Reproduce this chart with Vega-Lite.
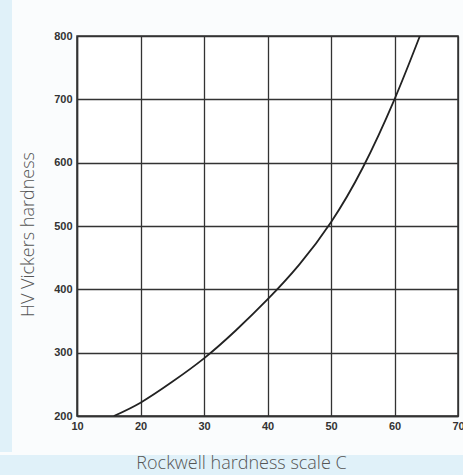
{
  "$schema": "https://vega.github.io/schema/vega-lite/v6.json",
  "background": "#fafcfd",
  "padding": 0,
  "bounds": "full",
  "spacing": 3,
  "vconcat": [
    {
      "bounds": "flush",
      "center": true,
      "spacing": 65,
      "hconcat": [
        {
          "width": 12,
          "height": 452,
          "view": {"fill": "#e0f1f9", "stroke": null},
          "data": {"values": [{"k": 1}]},
          "mark": {"type": "point", "opacity": 0}
        },
        {
          "width": 381,
          "height": 380,
          "view": {"fill": "#ffffff", "stroke": "#333333", "strokeWidth": 1.5},
          "data": {
            "values": [
              {"hrc": 15.8, "hv": 200},
              {"hrc": 20, "hv": 221},
              {"hrc": 25, "hv": 254},
              {"hrc": 30, "hv": 291},
              {"hrc": 35, "hv": 335},
              {"hrc": 40, "hv": 384},
              {"hrc": 45, "hv": 439},
              {"hrc": 50, "hv": 506},
              {"hrc": 55, "hv": 592},
              {"hrc": 60, "hv": 700},
              {"hrc": 64, "hv": 800}
            ]
          },
          "mark": {"type": "line", "color": "#222222", "strokeWidth": 1.8, "interpolate": "natural", "clip": true},
          "encoding": {
            "x": {
              "field": "hrc", "type": "quantitative",
              "scale": {"domain": [10, 70], "nice": false, "zero": false},
              "axis": {
                "values": [10, 20, 30, 40, 50, 60, 70],
                "title": null,
                "labelFont": "Liberation Sans", "labelFontSize": 11, "labelFontWeight": "bold", "labelColor": "#333333",
                "labelPadding": 4, "ticks": false, "domainColor": "#333333", "domainWidth": 1.5,
                "grid": true, "gridColor": "#333333", "gridWidth": 1.3, "gridOpacity": 1,
                "labelFlush": false, "labelOverlap": false
              }
            },
            "y": {
              "field": "hv", "type": "quantitative",
              "scale": {"domain": [200, 800], "nice": false, "zero": false},
              "axis": {
                "values": [200, 300, 400, 500, 600, 700, 800],
                "title": "HV Vickers hardness",
                "titleFont": "Open Sans", "titleFontSize": 18, "titleFontWeight": 300, "titleColor": "#555555",
                "titleX": -44, "titleY": 198, "titleAnchor": "middle", "titleBaseline": "alphabetic",
                "labelFont": "Liberation Sans", "labelFontSize": 11, "labelFontWeight": "bold", "labelColor": "#333333",
                "labelPadding": 5, "ticks": false, "domainColor": "#333333", "domainWidth": 1.5,
                "grid": true, "gridColor": "#333333", "gridWidth": 1.3, "gridOpacity": 1,
                "labelFlush": false, "labelOverlap": false
              }
            }
          }
        }
      ]
    },
    {
      "width": 463,
      "height": 20,
      "view": {"fill": "#e0f1f9", "stroke": null},
      "data": {"values": [{"label": "Rockwell hardness scale C"}]},
      "mark": {"type": "text", "font": "Open Sans", "fontSize": 18, "fontWeight": 300, "color": "#555555", "baseline": "alphabetic", "dx": 10, "dy": 4},
      "encoding": {"text": {"field": "label", "type": "nominal"}}
    }
  ]
}
